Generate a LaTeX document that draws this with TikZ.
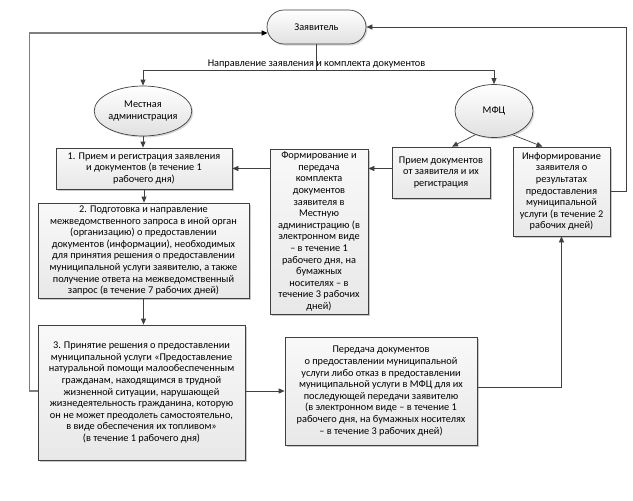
\documentclass[tikz,border=0pt]{standalone}
\usepackage{fontspec}
\setmainfont{Carlito}
\usetikzlibrary{arrows.meta,shadows,calc,shapes.geometric}
\definecolor{edgec}{HTML}{404040}
\definecolor{loopc}{HTML}{7F7F7F}
\begin{document}
\begin{tikzpicture}[x=1pt,y=-1pt,
  txt/.style={font=\fontsize{10.3}{11.6}\selectfont, align=center, text=black},
  procbox/.style={txt, draw=edgec, line width=0.7pt, rectangle, inner sep=0pt,
     top color=gray!5, bottom color=gray!18,
     drop shadow={shadow xshift=1.8pt, shadow yshift=-1.8pt, fill=gray!70, opacity=.6}},
  oval/.style={txt, draw=edgec, line width=0.7pt, ellipse, inner sep=0pt,
     top color=white, bottom color=gray!24,
     drop shadow={shadow xshift=1.5pt, shadow yshift=-1.5pt, fill=gray!60, opacity=.5}},
  conn/.style={draw=edgec, line width=0.7pt, -{Triangle[length=6pt,width=5pt]}},
  plain/.style={draw=edgec, line width=0.7pt},
  loopline/.style={draw=loopc, line width=1.2pt, -{Triangle[length=6pt,width=5pt,fill=black,color=black]}}
]
\useasboundingbox (0,0) rectangle (633,501);
\fill[white] (0,0) rectangle (633,501);

% nodes
\node[txt, draw=edgec, line width=0.7pt, rectangle, rounded corners=17pt, inner sep=0pt,
      top color=white, bottom color=gray!24,
      drop shadow={shadow xshift=1.5pt, shadow yshift=-1.5pt, fill=gray!60, opacity=.5},
      minimum width=99pt, minimum height=34pt] (zayav) at (316.5,27) {Заявитель};
\node[oval, minimum width=87pt, minimum height=50pt] (mestn) at (143,111) {Местная\\администрация};
\node[oval, minimum width=78pt, minimum height=53pt] (mfc) at (494,111) {МФЦ};

\node[procbox, minimum width=176pt, minimum height=41pt] (box1) at (144,168.5)
  {1. Прием и регистрация заявления\\и документов (в течение 1\\рабочего дня)};
\node[procbox, minimum width=211pt, minimum height=95pt] (box2) at (143.5,250.5)
  {2. Подготовка и направление\\межведомственного запроса в иной орган\\(организацию) о предоставлении\\документов (информации), необходимых\\для принятия решения о предоставлении\\муниципальной услуги заявителю, а также\\получение ответа на межведомственный\\запрос (в течение 7 рабочих дней)};
\node[procbox, minimum width=207pt, minimum height=135pt] (box3) at (141.5,392.5)
  {3. Принятие решения о предоставлении\\муниципальной услуги «Предоставление\\натуральной помощи малообеспеченным\\гражданам, находящимся в трудной\\жизненной ситуации, нарушающей\\жизнедеятельность гражданина, которую\\он не может преодолеть самостоятельно,\\в виде обеспечения их топливом»\\(в течение 1 рабочего дня)};
\node[procbox, minimum width=98pt, minimum height=165pt] (form) at (319,231.5)
  {Формирование и\\передача\\комплекта\\документов\\заявителя в\\Местную\\администрацию (в\\электронном виде\\– в течение 1\\рабочего дня, на\\бумажных\\носителях – в\\течение 3 рабочих\\дней)};
\node[procbox, minimum width=98pt, minimum height=51pt] (priem) at (441,172.5)
  {Прием документов\\от заявителя и их\\регистрация};
\node[procbox, minimum width=97pt, minimum height=89pt] (info) at (561.5,191.5)
  {Информирование\\заявителя о\\результатах\\предоставления\\муниципальной\\услуги (в течение 2\\рабочих дней)};
\node[procbox, minimum width=192pt, minimum height=108pt] (pered) at (381,391)
  {Передача документов\\о предоставлении муниципальной\\услуги либо отказ в предоставлении\\муниципальной услуги в МФЦ для их\\последующей передачи заявителю\\(в электронном виде – в течение 1\\рабочего дня, на бумажных носителях\\– в течение 3 рабочих дней)};

% top distribution
\coordinate (j) at ($(zayav.south)+(0,26)$);
\draw[plain] (zayav.south) -- (j);
\draw[conn] (j) -| (mestn.north);
\draw[conn] (j) -| (mfc.north);
\node[txt, anchor=south, inner sep=1pt] (lbl) at ($(j)+(0,-1)$) {Направление заявления и комплекта документов};

% left column
\draw[conn] (mestn.south) -- (mestn.south |- box1.north);
\draw[conn] (box1.south) -- (box1.south |- box2.north);
\draw[conn] (box2.south) -- (box2.south |- box3.north);

% MFC branch
\draw[conn] (mfc.232) -- ($(priem.north)+(11,0)$);
\draw[conn] (mfc.308) -- ($(info.north)+(-19,0)$);
\draw[conn] (priem.west |- box1.east) -- (form.east |- box1.east);
\draw[conn] (form.west |- box1.east) -- (box1.east);

% bottom
\draw[conn] (box3.east |- pered.west) -- (pered.west);
\draw[conn] ($(pered.east)+(0,-4)$) -| (info.south);

% loops back to applicant
\draw[conn] (info.east) -- ++(16,0) |- (zayav.east);
\draw[loopline] (box3.west |- pered.west) -- ++(-8,0) |- ($(zayav.west)+(1,6)$);
\end{tikzpicture}
\end{document}
